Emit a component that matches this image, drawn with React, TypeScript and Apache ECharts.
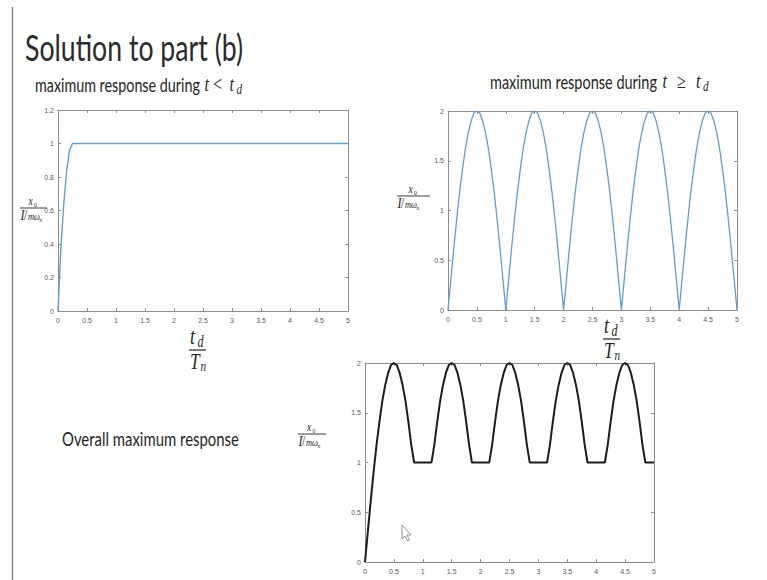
import React, { useEffect, useRef } from "react";
import * as echarts from "echarts";

// Sample points along t_d / T_n shared by the periodic curves
const ratioGrid = [
  0, 0.05, 0.1, 0.15, 0.2, 0.25, 0.3, 0.35, 0.4, 0.45, 0.5, 0.55, 0.6, 0.65, 0.7, 0.75, 0.8, 0.85, 0.9, 0.95,
  1, 1.05, 1.1, 1.15, 1.2, 1.25, 1.3, 1.35, 1.4, 1.45, 1.5, 1.55, 1.6, 1.65, 1.7, 1.75, 1.8, 1.85, 1.9, 1.95,
  2, 2.05, 2.1, 2.15, 2.2, 2.25, 2.3, 2.35, 2.4, 2.45, 2.5, 2.55, 2.6, 2.65, 2.7, 2.75, 2.8, 2.85, 2.9, 2.95,
  3, 3.05, 3.1, 3.15, 3.2, 3.25, 3.3, 3.35, 3.4, 3.45, 3.5, 3.55, 3.6, 3.65, 3.7, 3.75, 3.8, 3.85, 3.9, 3.95,
  4, 4.05, 4.1, 4.15, 4.2, 4.25, 4.3, 4.35, 4.4, 4.45, 4.5, 4.55, 4.6, 4.65, 4.7, 4.75, 4.8, 4.85, 4.9, 4.95,
  5,
];

// Maximum response during t < t_d
const forcedRatio = [0, 0.05, 0.1, 0.15, 0.2, 0.25, 5];
const forcedMax = [0, 0.38, 0.64, 0.84, 0.96, 1, 1];

// Maximum response during t >= t_d
const freeMax = [
  0, 0.31, 0.62, 0.91, 1.18, 1.41, 1.62, 1.78, 1.9, 1.98, 2.0, 1.98, 1.9, 1.78, 1.62, 1.41, 1.18, 0.91, 0.62, 0.31,
  0, 0.31, 0.62, 0.91, 1.18, 1.41, 1.62, 1.78, 1.9, 1.98, 2.0, 1.98, 1.9, 1.78, 1.62, 1.41, 1.18, 0.91, 0.62, 0.31,
  0, 0.31, 0.62, 0.91, 1.18, 1.41, 1.62, 1.78, 1.9, 1.98, 2.0, 1.98, 1.9, 1.78, 1.62, 1.41, 1.18, 0.91, 0.62, 0.31,
  0, 0.31, 0.62, 0.91, 1.18, 1.41, 1.62, 1.78, 1.9, 1.98, 2.0, 1.98, 1.9, 1.78, 1.62, 1.41, 1.18, 0.91, 0.62, 0.31,
  0, 0.31, 0.62, 0.91, 1.18, 1.41, 1.62, 1.78, 1.9, 1.98, 2.0, 1.98, 1.9, 1.78, 1.62, 1.41, 1.18, 0.91, 0.62, 0.31,
  0,
];

// Overall maximum response
const overallMax = [
  0, 0.31, 0.62, 0.91, 1.18, 1.41, 1.62, 1.78, 1.9, 1.98, 2.0, 1.98, 1.9, 1.78, 1.62, 1.41, 1.18,
  1, 1, 1, 1, 1, 1, 1,
  1.18, 1.41, 1.62, 1.78, 1.9, 1.98, 2.0, 1.98, 1.9, 1.78, 1.62, 1.41, 1.18,
  1, 1, 1, 1, 1, 1, 1,
  1.18, 1.41, 1.62, 1.78, 1.9, 1.98, 2.0, 1.98, 1.9, 1.78, 1.62, 1.41, 1.18,
  1, 1, 1, 1, 1, 1, 1,
  1.18, 1.41, 1.62, 1.78, 1.9, 1.98, 2.0, 1.98, 1.9, 1.78, 1.62, 1.41, 1.18,
  1, 1, 1, 1, 1, 1, 1,
  1.18, 1.41, 1.62, 1.78, 1.9, 1.98, 2.0, 1.98, 1.9, 1.78, 1.62, 1.41, 1.18,
  1, 1, 1, 1,
];

// Axis ranges: [min, max, interval]
const ratioAxis = [0, 5, 0.5];
const forcedAxis = [0, 1.2, 0.2];
const responseAxis = [0, 2, 0.5];

const FRAME = "#8d8d8d";
const BLUE = "#5f9fd4";
const INK = "#262626";
const SANS = "Lato";
const SERIF = '"Liberation Serif"';

let ctx: CanvasRenderingContext2D | null = null;
function measure(text: string, font: string): number {
  if (!ctx) ctx = document.createElement("canvas").getContext("2d");
  ctx!.font = font;
  return ctx!.measureText(text).width;
}

type Run = { t: string; x: number; base: number; size: number; fam: string; it?: boolean; sx?: number; w?: number; align?: string; fill?: string };

function txt(r: Run) {
  const font = `${r.it ? "italic " : ""}${r.size}px ${r.fam}`;
  const sx = r.w ? r.w / measure(r.t, font) : r.sx ?? 1;
  const align = r.align ?? "left";
  return {
    type: "text",
    x: r.x,
    y: r.base - 0.33 * r.size,
    scaleX: sx,
    silent: true,
    style: {
      text: r.t,
      font,
      fill: r.fill ?? INK,
      textAlign: align,
      textVerticalAlign: "middle",
      align,
      verticalAlign: "middle",
    },
  };
}

function bar(x1: number, x2: number, y: number, w = 1) {
  return { type: "line", silent: true, shape: { x1, y1: y, x2, y2: y }, style: { stroke: INK, lineWidth: w } };
}

// x_0 over I / m omega_n
function yFrac(x1: number, x2: number, barY: number) {
  const cx = (x1 + x2) / 2;
  return [
    txt({ t: "x", x: cx - 5, base: barY - 3, size: 12, fam: SERIF, it: true, sx: 0.8 }),
    txt({ t: "0", x: cx + 0.5, base: barY - 1.5, size: 7, fam: SERIF, sx: 0.8 }),
    bar(x1, x2, barY, 0.9),
    txt({ t: "I", x: x1 + 0.5, base: barY + 12, size: 15, fam: SERIF, it: true, sx: 0.8 }),
    txt({ t: "/", x: x1 + 4, base: barY + 12, size: 14, fam: SERIF, sx: 0.8 }),
    txt({ t: "m\u03c9", x: x1 + 8, base: barY + 12, size: 10.5, fam: SERIF, it: true, sx: 0.8 }),
    txt({ t: "n", x: x1 + 19.5, base: barY + 13.5, size: 7, fam: SERIF, it: true, sx: 0.8 }),
  ];
}

// t_d over T_n
function xFrac(left: number, barY: number) {
  return [
    txt({ t: "t", x: left + 1, base: barY - 6, size: 24, fam: SERIF, it: true, sx: 0.75 }),
    txt({ t: "d", x: left + 8.5, base: barY - 3, size: 16, fam: SERIF, it: true, sx: 0.75 }),
    bar(left, left + 17, barY, 1.2),
    txt({ t: "T", x: left + 1, base: barY + 19, size: 23, fam: SERIF, it: true, sx: 0.75 }),
    txt({ t: "n", x: left + 11.5, base: barY + 21, size: 15, fam: SERIF, it: true, sx: 0.75 }),
  ];
}

function axesFor(gi: number, range: number[], isX: boolean) {
  const [min, max, interval] = range;
  const common = {
    gridIndex: gi,
    type: "value",
    min,
    max,
    interval,
    axisLine: { show: true, onZero: false, lineStyle: { color: FRAME, width: 1 } },
    axisTick: { show: true, inside: true, length: 3, lineStyle: { color: FRAME, width: 1 } },
    splitLine: { show: false },
  };
  return [
    {
      ...common,
      position: isX ? "bottom" : "left",
      axisLabel: { fontSize: 7, color: "#5a5a5a", margin: isX ? 6 : 4, fontFamily: '"Liberation Sans"' },
    },
    { ...common, position: isX ? "top" : "right", axisLabel: { show: false } },
  ];
}

export default function App() {
  const ref = useRef<HTMLDivElement>(null);

  useEffect(() => {
    if (!ref.current) return;
    const chart = echarts.init(ref.current, undefined, { renderer: "svg" });

    const freeData = ratioGrid.map((t, i) => [t, freeMax[i]]);
    const overallData = ratioGrid.map((t, i) => [t, overallMax[i]]);
    const forcedData = forcedRatio.map((t, i) => [t, forcedMax[i]]);

    const graphics: any[] = [
      // slide edge
      { type: "line", silent: true, shape: { x1: 12.5, y1: 7, x2: 12.5, y2: 580 }, style: { stroke: "#7a7a7a", lineWidth: 1.3 } },
      txt({ t: "Solution to part (b)", x: 25, base: 59, size: 36, fam: SANS, w: 218, fill: "#2b2b2b" }),

      txt({ t: "maximum response during", x: 35, base: 91, size: 20, fam: SANS, w: 165 }),
      txt({ t: "t", x: 204.5, base: 91, size: 20, fam: SERIF, it: true, sx: 0.8 }),
      txt({ t: "<", x: 213, base: 91, size: 20, fam: SERIF, sx: 0.8 }),
      txt({ t: "t", x: 229.5, base: 91, size: 20, fam: SERIF, it: true, sx: 0.8 }),
      txt({ t: "d", x: 236.5, base: 94, size: 14, fam: SERIF, it: true, sx: 0.8 }),

      txt({ t: "maximum response during", x: 490, base: 88, size: 20, fam: SANS, w: 167 }),
      txt({ t: "t", x: 662.5, base: 88, size: 20, fam: SERIF, it: true, sx: 0.8 }),
      txt({ t: "\u2265", x: 677, base: 88, size: 20, fam: SERIF, sx: 0.8 }),
      txt({ t: "t", x: 696, base: 88, size: 20, fam: SERIF, it: true, sx: 0.8 }),
      txt({ t: "d", x: 703, base: 91, size: 14, fam: SERIF, it: true, sx: 0.8 }),

      txt({ t: "Overall maximum response", x: 62, base: 445, size: 20, fam: SANS, w: 177 }),

      ...yFrac(20, 47, 208),
      ...yFrac(397, 430, 196),
      ...yFrac(298, 326, 434),
      ...xFrac(189, 350),
      ...xFrac(603, 339),

      // pointer
      {
        type: "polygon",
        silent: true,
        shape: { points: [[402, 525], [402, 539], [405, 536], [407.5, 541], [409.5, 540], [407, 535], [411, 535]] },
        style: { fill: "#fff", stroke: "#777", lineWidth: 0.8 },
      },
    ];

    chart.setOption({
      animation: false,
      backgroundColor: "#fff",
      grid: [
        { left: 58, top: 110, width: 290, height: 201, show: false },
        { left: 448, top: 111, width: 289, height: 199, show: false },
        { left: 365, top: 363, width: 289, height: 199, show: false },
      ],
      xAxis: [...axesFor(0, ratioAxis, true), ...axesFor(1, ratioAxis, true), ...axesFor(2, ratioAxis, true)],
      yAxis: [...axesFor(0, forcedAxis, false), ...axesFor(1, responseAxis, false), ...axesFor(2, responseAxis, false)],
      series: [
        {
          type: "line",
          xAxisIndex: 0,
          yAxisIndex: 0,
          data: forcedData,
          showSymbol: false,
          lineStyle: { color: BLUE, width: 1.4 },
          silent: true,
        },
        {
          type: "line",
          xAxisIndex: 2,
          yAxisIndex: 2,
          data: freeData,
          showSymbol: false,
          lineStyle: { color: BLUE, width: 1.3 },
          silent: true,
        },
        {
          type: "line",
          xAxisIndex: 4,
          yAxisIndex: 4,
          data: overallData,
          showSymbol: false,
          lineStyle: { color: "#1c1c1c", width: 2 },
          silent: true,
        },
      ],
      graphic: graphics,
    });

    return () => chart.dispose();
  }, []);

  return (
    <div
      ref={ref}
      style={{ position: "absolute", left: 0, top: 0, width: 767, height: 580, background: "#fff" }}
    />
  );
}
